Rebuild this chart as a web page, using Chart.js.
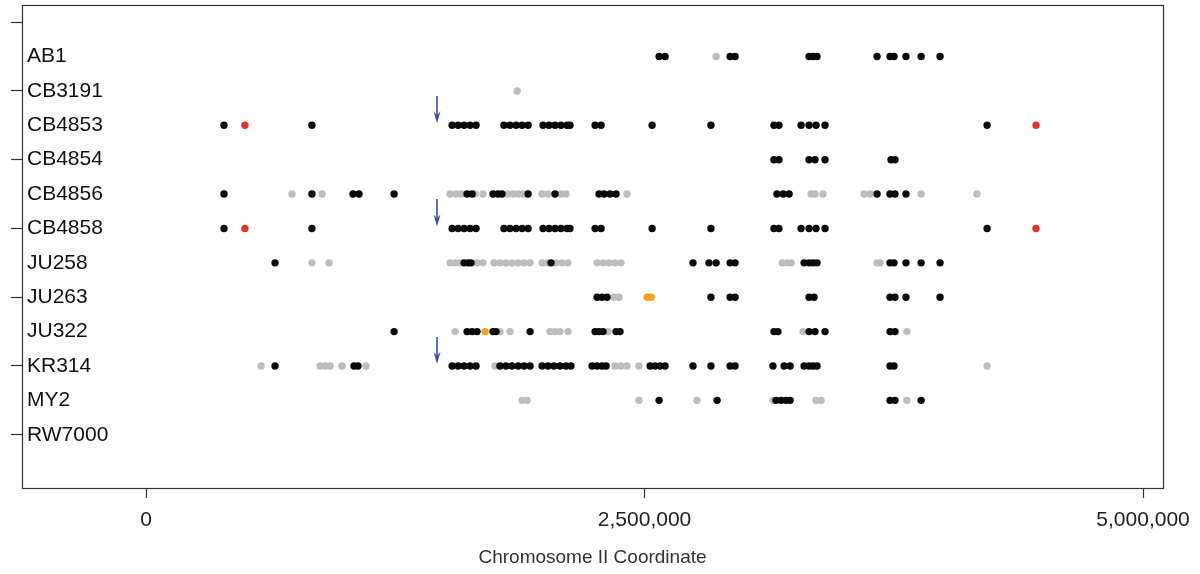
<!DOCTYPE html>
<html>
<head>
<meta charset="utf-8">
<title>Chromosome II variants</title>
<script src="https://cdn.jsdelivr.net/npm/chart.js@4.4.1/dist/chart.umd.min.js"></script>
<style>
    html, body { margin: 0; padding: 0; background: #fff; }
    #wrap { width: 1200px; height: 574px; position: relative; }
</style>
</head>
<body>
<div id="wrap"><canvas id="chart"></canvas></div>
<script>
// strains, top to bottom
const strains = ['AB1', 'CB3191', 'CB4853', 'CB4854', 'CB4856', 'CB4858', 'JU258', 'JU263', 'JU322', 'KR314', 'MY2', 'RW7000'];

// site positions in kb, one list per strain (same order as strains)
const blackKb = [
    [2573, 2603, 2929, 2954, 3325, 3345, 3365, 3666, 3731, 3751, 3811, 3887, 3982],
    [],
    [391, 832, 1535, 1565, 1595, 1625, 1655, 1795, 1825, 1856, 1886, 1916, 1991, 2021, 2051, 2081, 2111, 2126, 2252, 2282, 2538, 2833, 3149, 3174, 3285, 3325, 3360, 3405, 4218],
    [3149, 3174, 3325, 3355, 3405, 3736, 3756],
    [391, 832, 1038, 1068, 1244, 1610, 1635, 1740, 1765, 1785, 1916, 2051, 2272, 2297, 2327, 2357, 3164, 3195, 3225, 3666, 3731, 3756, 3811],
    [391, 832, 1535, 1565, 1595, 1625, 1655, 1795, 1825, 1856, 1886, 1916, 1991, 2021, 2051, 2081, 2111, 2126, 2252, 2282, 2538, 2833, 3149, 3174, 3285, 3325, 3360, 3405, 4218],
    [647, 1595, 1615, 1630, 2031, 2743, 2823, 2859, 2929, 2954, 3300, 3325, 3345, 3365, 3731, 3751, 3811, 3887, 3982],
    [2262, 2287, 2312, 2833, 2929, 2954, 3325, 3350, 3731, 3756, 3811, 3982],
    [1244, 1610, 1635, 1660, 1740, 1755, 1926, 2252, 2272, 2292, 2357, 2377, 3149, 3169, 3325, 3355, 3405, 3731, 3756],
    [647, 1043, 1063, 1535, 1565, 1595, 1625, 1655, 1775, 1805, 1835, 1866, 1896, 1926, 1986, 2016, 2046, 2076, 2106, 2131, 2237, 2262, 2287, 2307, 2528, 2553, 2578, 2603, 2743, 2833, 2929, 2954, 3144, 3200, 3230, 3300, 3325, 3345, 3365, 3731, 3751],
    [2573, 2864, 3159, 3185, 3210, 3230, 3731, 3756, 3887],
    []
];

const grayKb = [
    [2859],
    [1861],
    [],
    [],
    [732, 883, 1525, 1555, 1580, 1650, 1690, 1815, 1840, 1866, 1891, 1986, 2016, 2081, 2106, 2412, 3335, 3355, 3395, 3601, 3631, 3887, 4167],
    [],
    [832, 918, 1525, 1550, 1575, 1660, 1690, 1745, 1775, 1805, 1835, 1866, 1896, 1926, 1986, 2011, 2056, 2086, 2116, 2262, 2292, 2322, 2352, 2382, 3190, 3215, 3235, 3666, 3681],
    [2347, 2372],
    [1550, 1775, 1825, 2026, 2051, 2076, 2116, 2317, 3295, 3816],
    [577, 873, 898, 923, 983, 1103, 1750, 2352, 2382, 2412, 2472, 4218],
    [1886, 1911, 2472, 2763, 3144, 3360, 3385, 3816],
    []
];

const redKb = [[], [], [496, 4463], [], [], [496, 4463], [], [], [], [], [], []];
const orangeKb = [[], [], [], [], [], [], [], [2513, 2533], [1700], [], [], []];

// blue arrows
const arrowStrains = ['CB4853', 'CB4858', 'KR314'];
const arrowKb = 1459;

const xTickValues = [0, 2500000, 5000000];

const toPoints = (lists) => lists.flatMap((list, i) => list.map((kb) => ({ x: kb * 1000, y: i + 1 })));

const makeArrow = () => {
    const c = document.createElement('canvas');
    c.width = 10;
    c.height = 28;
    const g = c.getContext('2d');
    g.strokeStyle = '#3d4ea8';
    g.fillStyle = '#3d4ea8';
    g.lineWidth = 1.6;
    g.beginPath();
    g.moveTo(5, 0);
    g.lineTo(5, 22);
    g.stroke();
    g.beginPath();
    g.moveTo(1.5, 15);
    g.lineTo(5, 27);
    g.lineTo(8.5, 15);
    g.lineTo(5, 19);
    g.closePath();
    g.fill();
    return c;
};

const framePlugin = {
    id: 'frame',
    afterDatasetsDraw(chart) {
        const { ctx, chartArea: a } = chart;
        ctx.save();
        ctx.strokeStyle = '#333';
        ctx.lineWidth = 1.2;
        ctx.strokeRect(a.left + 0.5, a.top + 0.5, a.right - a.left, a.bottom - a.top);
        ctx.restore();
    }
};

const fontFamily = "'Liberation Sans', Arial, Helvetica, sans-serif";
const dot = (color, order) => ({
    backgroundColor: color,
    borderWidth: 0,
    pointRadius: 3.7,
    pointHoverRadius: 3.7,
    order
});

new Chart(document.getElementById('chart'), {
    type: 'scatter',
    data: {
        datasets: [
            { label: 'arrow', data: arrowStrains.map((s) => ({ x: arrowKb * 1000, y: strains.indexOf(s) + 1 - 0.44 })), pointStyle: makeArrow(), pointRadius: 10, order: 1 },
            { label: 'orange', data: toPoints(orangeKb), ...dot('#f5a31a', 2) },
            { label: 'red', data: toPoints(redKb), ...dot('#e53527', 2) },
            { label: 'black', data: toPoints(blackKb), ...dot('#0a0a0a', 3) },
            { label: 'gray', data: toPoints(grayKb), ...dot('#bdbdbd', 4) }
        ]
    },
    options: {
        animation: false,
        responsive: true,
        maintainAspectRatio: false,
        events: [],
        layout: { autoPadding: false, padding: { left: 0, right: 37, top: 5, bottom: 3 } },
        plugins: {
            legend: { display: false },
            tooltip: { enabled: false }
        },
        scales: {
            x: {
                type: 'linear',
                min: -622000,
                max: 5100000,
                afterBuildTicks: (scale) => { scale.ticks = xTickValues.map((v) => ({ value: v })); },
                afterFit: (scale) => { scale.height = 83; scale.paddingLeft = 0; scale.paddingRight = 0; },
                border: { display: false },
                grid: { drawOnChartArea: false, drawTicks: true, tickLength: 10, tickColor: '#333', tickWidth: 1.2 },
                ticks: {
                    maxRotation: 0,
                    autoSkip: false,
                    padding: 10,
                    color: '#222',
                    font: { family: fontFamily, size: 21 },
                    callback: (v) => Number(v).toLocaleString('en-US')
                },
                title: {
                    display: true,
                    text: 'Chromosome II Coordinate',
                    color: '#333',
                    font: { family: fontFamily, size: 19 },
                    padding: { top: 14, bottom: 2 }
                }
            },
            y: {
                type: 'linear',
                reverse: true,
                min: -0.5,
                max: 13.55,
                afterBuildTicks: (scale) => { scale.ticks = Array.from({ length: 14 }, (_, i) => ({ value: i })); },
                afterFit: (scale) => { scale.width = 22; scale.paddingTop = 0; scale.paddingBottom = 0; },
                border: { display: false },
                grid: {
                    drawOnChartArea: false,
                    drawTicks: true,
                    tickLength: 11,
                    tickWidth: 1.2,
                    tickColor: (ctx) => (ctx.tick && ctx.tick.value % 2 === 0 && ctx.tick.value <= 12 ? '#333' : 'rgba(0,0,0,0)')
                },
                ticks: {
                    mirror: true,
                    padding: 5,
                    color: '#111',
                    font: { family: fontFamily, size: 21, lineHeight: 0.4 },
                    callback: (v) => strains[v - 1] || ''
                }
            }
        }
    },
    plugins: [framePlugin]
});
</script>
</body>
</html>
